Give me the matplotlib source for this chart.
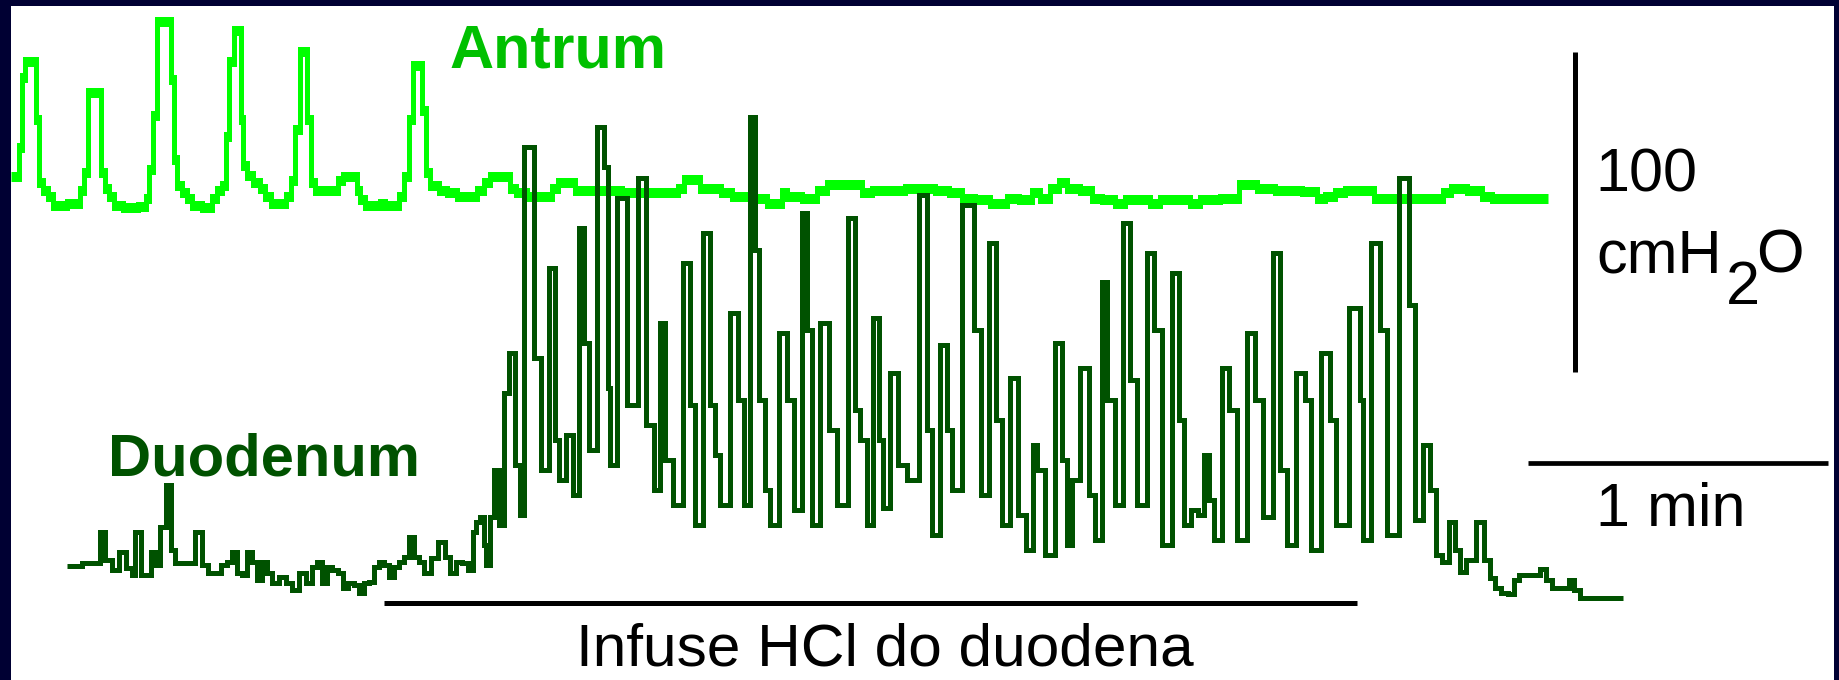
import matplotlib
matplotlib.use("Agg")
import matplotlib.pyplot as plt
import numpy as np

# ---------------- data (time in s, pressure in cmH2O) ----------------
antrum_t = [0, 1.4, 1.8, 2.4, 3.4, 4.6, 5.2, 5.8, 7.0, 8.0, 8.8, 10.6, 11.8, 13.4, 14.2, 15.0,
            15.8, 17.8, 18.4, 19.2, 20.2, 21.2, 23.8, 26.8, 27.4, 28.0, 28.8, 29.6, 31.8, 32.4,
            32.8, 33.8, 34.8, 35.8, 36.8, 39.8, 40.6, 41.8, 42.6, 43.2, 44.2, 45.0, 45.8, 46.2,
            46.8, 47.8, 49.2, 50.2, 51.2, 52.8, 54.4, 55.6, 56.4, 57.4, 58.2, 59.0, 59.6, 60.4,
            61.4, 65.0, 65.8, 67.0, 69.0, 69.4, 70.4, 71.4, 73.4, 74.4, 75.4, 77.0, 78.2, 79.2,
            80.0, 81.0, 81.8, 82.6, 83.4, 84.4, 86.8, 87.8, 90.8, 92.8, 93.8, 95.4, 96.2, 99.4,
            100.2, 101.8, 104.8, 107.8, 108.8, 110.2, 112.4, 113.4, 120.8, 123.8, 133.0, 133.8,
            135.4, 137.4, 138.2, 141.4, 142.6, 145.8, 150.8, 151.8, 153.8, 154.8, 155.8, 160.8,
            161.8, 164.8, 169.8, 170.8, 173.8, 183.8, 185.8, 189.4, 190.8, 194.8, 196.8, 198.8,
            199.8, 203.4, 204.8, 206.8, 208.8, 210.4, 211.8, 215.8, 216.8, 219.8, 221.8, 223.8,
            226.8, 228.8, 230.8, 234.8, 236.8, 238.8, 244.8, 246.4, 248.4, 249.8, 255.8, 260.8,
            261.8, 263.8, 265.8, 267.8, 271.8, 273.4, 285.8, 287.2, 288.8, 293.8, 294.8, 297.8,
            307.4]
antrum_p = [6.6, 6.6, 15.9, 37.8, 42.8, 42.8, 24.4, 4.7, 2.2, 0.6, -2.2, -2.2, -1.6, -1.6, 2.5, 8.1,
            33.1, 33.1, 8.1, 3.1, 0.6, -2.2, -3.1, -2.5, 0, 8.8, 25.9, 55.3, 55.3, 36.9,
            11.9, 3.8, 1.6, 0, -2.2, -3.1, 0, 2.5, 3.8, 19.1, 42.8, 52.2, 52.2, 24.4,
            10.3, 6.9, 4.7, 3.1, 0.6, -1.6, -1.6, 0.6, 5.6, 21.3, 45.9, 45.9, 24.4, 4.7,
            2.2, 2.2, 5.6, 6.6, 6.6, 2.5, -0.6, -2.2, -2.2, -1.6, -2.2, -2.2, 0.6, 6.6,
            24.4, 41.3, 41.3, 27.5, 8.1, 3.8, 2.5, 1.6, 0.6, 0.6, 2.5, 4.7, 6.6, 6.6,
            3.1, 1.6, 0.6, 0.6, 3.1, 4.7, 4.7, 2.5, 2.5, 1.6, 1.6, 3.1,
            5.9, 5.9, 3.1, 3.1, 1.6, 0.6, 0, -1.6, -1.6, 1.6, 0.6, 0,
            2.5, 4.1, 4.1, 1.6, 2.5, 3.1, 2.2, 1.6, 0, -0.6, -1.6, -1.6,
            0, -0.6, 1.6, 0, 3.1, 4.7, 3.1, 2.5, 0, -0.6, -1.6, -0.6,
            -0.6, -1.6, -0.6, -0.6, -1.6, -0.6, 0, 4.1, 4.1, 3.1, 2.5, 1.9,
            0, 0.6, 1.6, 2.5, 2.5, 0, 0, 1.6, 3.1, 2.5, 0.6, 0,
            0]

duo_t = [11.2, 17.4, 18.4, 19.4, 21.2, 22.2, 23.8, 24.4, 25.4, 26.8, 27.8, 28.4, 29.4, 30.4, 31.8,
         32.4, 33.4, 35.8, 37.8, 38.8, 40.2, 41.4, 42.8, 43.8, 44.8, 45.8, 46.8, 47.8, 48.8, 49.8,
         50.8, 51.8, 52.8, 54.4, 55.8, 56.8, 58.4, 59.8, 60.8, 61.8, 62.8, 63.8, 64.8, 66.2, 66.8,
         68.2, 69.2, 70.2, 71.2, 72.2, 73.2, 74.2, 75.2, 76.2, 77.2, 78.2, 79.2, 80.2, 81.2, 82.2,
         83.2, 84.8, 86.2, 87.4, 88.4, 89.8, 90.8, 92.2, 92.8, 93.4, 94.4, 94.8, 95.4, 96.2, 97.2,
         98.2, 99.2, 100.2, 101.2, 102.2, 103.2, 104.2, 105.2, 106.8, 108.4, 109.2, 110.2, 111.8,
         113.2, 114.2, 115.2, 116.2, 118.2, 119.2, 119.4, 120.2, 122.2, 124.2, 126.4, 127.8, 129.4,
         130.4, 131.4, 133.4, 135.4, 136.4, 137.4, 139.4, 140.4, 141.4, 142.4, 145.2, 145.8, 147.4,
         148.4, 149.2, 150.2, 151.4, 152.4, 154.8, 155.8, 157.4, 158.8, 159.8, 160.4, 163.2, 164.2,
         166.4, 168.4, 169.4, 170.4, 171.8, 173.2, 174.2, 174.8, 176.8, 178.2, 180.4, 182.8, 183.8,
         184.8, 186.8, 187.8, 188.8, 191.8, 193.4, 194.8, 196.4, 197.8, 198.8, 200.8, 202.2, 203.8,
         204.8, 205.8, 207.8, 209.8, 210.8, 211.8, 212.8, 214.8, 216.4, 217.4, 218.8, 219.8, 221.8,
         223.2, 224.4, 226.2, 228.2, 229.2, 231.2, 233.2, 234.2, 235.2, 236.8, 238.2, 239.2, 240.2,
         241.2, 243.2, 244.2, 246.2, 248.4, 249.4, 251.4, 253.4, 254.4, 255.8, 258.4, 259.4, 260.8,
         263.4, 264.4, 265.8, 269.4, 270.2, 270.8, 273.4, 274.4, 276.2, 279.2, 280.2, 281.4, 283.4,
         284.4, 285.8, 286.8, 288.4, 289.4, 290.4, 291.8, 294.2, 295.2, 296.4, 297.2, 298.8, 300.2,
         301.2, 302.2, 305.4, 306.4, 307.8, 308.8, 311.2, 312.2, 313.2, 314.4, 322.4]
duo_p = [10.0, 10.9, 20.6, 11.9, 8.8, 14.4, 9.4, 7.2, 20.6, 7.2, 7.2, 14.4, 10.3, 22.2, 35.3,
         15.0, 10.9, 10.9, 20.6, 10.3, 7.8, 7.8, 10.3, 11.3, 14.4, 7.8, 7.2, 14.4, 11.3, 5.6,
         11.3, 7.8, 4.7, 6.6, 4.7, 2.5, 7.8, 4.7, 9.7, 11.3, 4.7, 9.7, 8.8, 7.8, 3.1,
         4.7, 4.1, 1.6, 4.7, 5.0, 9.7, 11.3, 10.3, 6.6, 9.7, 11.3, 12.8, 19.1, 12.8, 11.3,
         7.8, 12.5, 17.5, 12.8, 7.8, 11.3, 10.9, 8.8, 20.6, 23.8, 25.3, 16.6, 10.3, 25.3, 40.0,
         22.8, 64.1, 76.6, 41.6, 25.9, 140.9, 140.9, 75.0, 40.0, 103.1, 49.4, 36.9, 50.9,
         32.2, 115.6, 79.7, 46.3, 147.2, 134.7, 65.6, 41.6, 125.0, 60.3, 131.3, 54.1, 33.8,
         85.9, 43.1, 29.1, 104.7, 60.3, 22.8, 114.1, 60.3, 44.7, 29.1, 89.1, 61.9, 29.1,
         150.3, 108.8, 61.9, 33.8, 22.8, 82.8, 61.9, 27.5, 120.3, 83.8, 22.8, 85.9, 52.5,
         29.1, 118.8, 58.8, 49.4, 22.8, 87.5, 49.4, 28.1, 70.3, 41.6, 36.9, 125.9, 52.5,
         19.7, 79.1, 52.5, 33.8, 122.8, 83.8, 32.2, 110.9, 55.6, 22.8, 68.8, 25.9, 15.0,
         47.8, 40.0, 13.4, 79.7, 43.1, 16.6, 36.9, 71.9, 32.2, 18.1, 98.8, 61.9, 29.1,
         117.2, 68.1, 29.1, 107.8, 83.8, 16.6, 101.6, 55.6, 22.8, 27.5, 25.9, 44.7, 30.6,
         18.1, 71.9, 58.8, 18.1, 82.8, 61.9, 25.3, 107.8, 40.0, 16.6, 70.3, 61.9, 15.0,
         76.6, 55.6, 22.8, 90.6, 61.9, 18.1, 110.9, 83.8, 19.7, 131.3, 91.6, 24.4, 47.8,
         33.8, 13.4, 11.3, 23.8, 15.0, 8.1, 11.9, 23.8, 11.9, 6.3, 3.1, 1.6, 1.3,
         5.6, 7.2, 7.2, 9.1, 5.6, 3.1, 3.1, 5.6, 2.5, 0, 0]

antrum_offset = 125.0          # antrum trace drawn above duodenum trace (cmH2O)
scale_cm = 100                 # vertical calibration bar
scale_s = 60                   # 1 min horizontal bar
scale_bar_t, scale_bar_p0 = 312.8, 70.5
min_bar_t0, min_bar_p = 303.4, 42.2
infusion_start, infusion_end, infusion_p = 74.6, 269.2, -1.6

# ---------------- figure ----------------
W, H = 1839, 680
fig = plt.figure(figsize=(W / 100, H / 100), dpi=100, facecolor="#000033")
ax = fig.add_axes([11 / W, 0, (1834 - 11) / W, 674 / H])
ax.set_facecolor("white")
ax.set_xlim(0, 364.6)
ax.set_ylim(-25.625, 185.0)
for s in ax.spines.values():
    s.set_visible(False)
ax.set_xticks([])
ax.set_yticks([])

px_per_cm = 3.2
half_pen = 2.5 / px_per_cm
ap = np.array(antrum_p) + antrum_offset
for d in (half_pen, -half_pen):
    ax.plot(antrum_t, ap + d, color="#00ff00", lw=3.6, drawstyle="steps-mid",
            solid_joinstyle="miter", solid_capstyle="butt", zorder=2)
ax.plot(duo_t, duo_p, color="#005200", lw=3.6, drawstyle="steps-mid",
        solid_joinstyle="miter", solid_capstyle="butt", zorder=3)

# calibration bars
ax.plot([scale_bar_t, scale_bar_t], [scale_bar_p0, scale_bar_p0 + scale_cm], color="black",
        lw=3.6, solid_capstyle="butt")
ax.plot([min_bar_t0, min_bar_t0 + scale_s], [min_bar_p, min_bar_p], color="black",
        lw=3.4, solid_capstyle="butt")
ax.plot([infusion_start, infusion_end], [infusion_p, infusion_p], color="black",
        lw=3.6, solid_capstyle="butt")

font = "Liberation Sans"
ax.text(87.6, 165.9, "Antrum", fontsize=44, fontweight="bold", color="#00c000",
        family=font, va="baseline", ha="left")
ax.text(19.4, 38.4, "Duodenum", fontsize=43, fontweight="bold", color="#005200",
        family=font, va="baseline", ha="left")
ax.text(174.7, -21.25, "Infuse HCl do duodena", fontsize=43.5, color="black",
        family=font, va="baseline", ha="center")
ax.text(316.8, 126.9, "100", fontsize=44, color="black", family=font, va="baseline")
ax.text(317.0, 101.6, "cmH", fontsize=44, color="black", family=font, va="baseline")
ax.text(343.0, 91.9, "2", fontsize=44, color="black", family=font, va="baseline")
ax.text(349.0, 101.6, "O", fontsize=44, color="black", family=font, va="baseline")
ax.text(317.0, 22.5, "1 min", fontsize=44, color="black", family=font, va="baseline")

fig.savefig("out.png", dpi=100, facecolor=fig.get_facecolor())
